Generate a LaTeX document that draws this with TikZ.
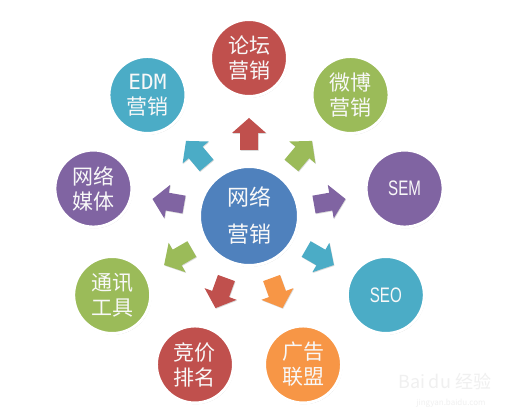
\documentclass[tikz,border=0pt]{standalone}
\usepackage{fontspec}
\setmainfont{Noto Sans CJK SC}
\newfontfamily\monof{DejaVu Sans Mono}
\newfontfamily\narrowf[FakeStretch=0.72]{Liberation Sans}
\usetikzlibrary{shadows,calc}
\definecolor{cred}{HTML}{C0504D}
\definecolor{cgreen}{HTML}{9BBB59}
\definecolor{cpurple}{HTML}{8064A2}
\definecolor{ccyan}{HTML}{4BACC6}
\definecolor{corange}{HTML}{F79646}
\definecolor{cblue}{HTML}{4F81BD}
\definecolor{ctext}{HTML}{F8F8F8}
\begin{document}
\begin{tikzpicture}[x=1pt,y=1pt,
  softshadow/.style={drop shadow={shadow xshift=0.8pt, shadow yshift=-1.2pt, opacity=0.22, fill=black}},
  bubble/.style={circle, fill=#1, draw=white, line width=3pt, minimum size=77pt, inner sep=0pt,
    softshadow, text=ctext, align=center, font=\fontsize{21}{25}\selectfont},
  hub/.style={circle, fill=cblue, draw=white, line width=3pt, minimum size=99pt, inner sep=0pt,
    softshadow, text=ctext, align=center, font=\fontsize{22}{37}\selectfont},
  blockarrow/.style={fill=#1, drop shadow={shadow xshift=0.6pt, shadow yshift=-0.8pt, opacity=0.15, fill=black}},
  wmark/.style={text=black!6}]
\useasboundingbox[fill=white] (0,0) rectangle (519,420);
\coordinate (C) at (249,204);
% arrows
\foreach \a/\c in {90/cred,50/cgreen,10/cpurple,-30/ccyan,-70/corange,-110/cred,-150/cgreen,170/cpurple,130/ccyan}
  \fill[blockarrow=\c, shift={(C)}, rotate=\a]
    (66,-9) -- (83,-9) -- (83,-17) -- (98,0) -- (83,17) -- (83,9) -- (66,9) -- cycle;
% center
\node[hub] (hub) at (C) {网络\\营销};
% outer bubbles
\node[bubble=cred]    (luntan) at ($(C)+(90:158)$)   {论坛\\营销};
\node[bubble=cgreen]  (weibo)  at ($(C)+(50:158)$)   {微博\\营销};
\node[bubble=cpurple] (sem)    at ($(C)+(10:158)$)   {\narrowf SEM};
\node[bubble=ccyan]   (seo)    at ($(C)+(-30:158)$)  {\narrowf SEO};
\node[bubble=corange] (guang)  at ($(C)+(-70:158)$)  {广告\\联盟};
\node[bubble=cred]    (jing)   at ($(C)+(-110:158)$) {竞价\\排名};
\node[bubble=cgreen]  (tong)   at ($(C)+(-150:158)$) {通讯\\工具};
\node[bubble=cpurple] (meiti)  at ($(C)+(170:158)$)  {网络\\媒体};
\node[bubble=ccyan]   (edm)    at ($(C)+(130:158)$)  {{\monof EDM}\\营销};
% watermark
\node[wmark, font=\fontsize{18}{18}\selectfont] (wm1) at (445,38) {Bai\,du 经验};
\node[wmark, font=\fontsize{8}{8}\selectfont] (wm2) at (451,17) {jingyan.baidu.com};
\end{tikzpicture}
\end{document}
